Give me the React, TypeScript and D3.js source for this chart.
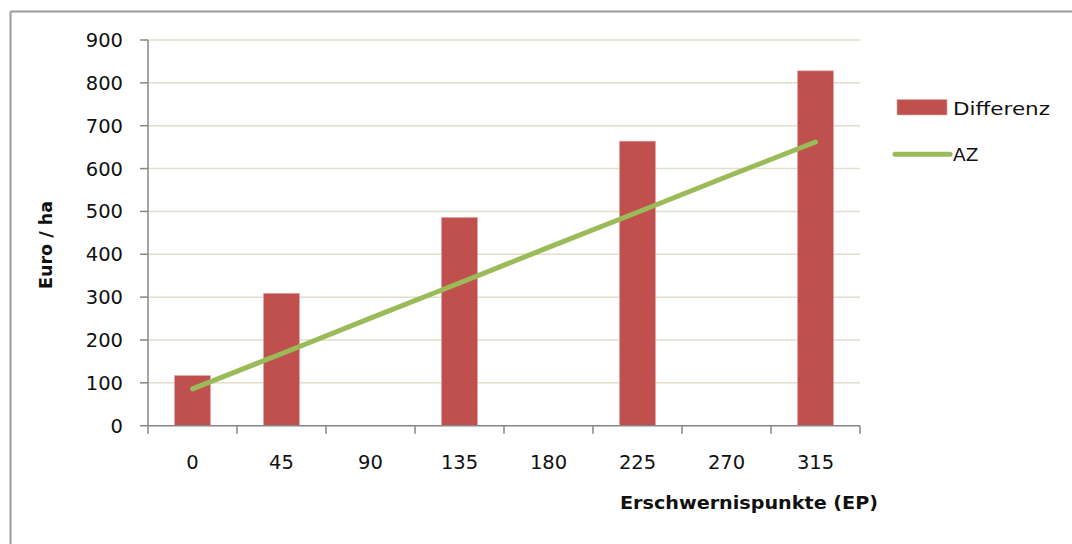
import React from "react";
import * as d3 from "d3";

const categories = ["0", "45", "90", "135", "180", "225", "270", "315"];
const differenz: (number | null)[] = [117, 309, null, 486, null, 664, null, 828];
const az = [86, 168, 251, 333, 416, 498, 581, 662];
const yTicks = [0, 100, 200, 300, 400, 500, 600, 700, 800, 900];
const seriesNames = ["Differenz", "AZ"];

const W = 1072;
const H = 544;
const left = 148;
const right = 860;
const top = 40;
const bottom = 425.7;
const FONT = "'DejaVu Sans', sans-serif";

export default function App() {
  const x = d3.scaleBand().domain(categories).range([left, right]).paddingInner(0).paddingOuter(0);
  const y = d3.scaleLinear().domain([0, 900]).range([bottom, top]);
  const bw = x.bandwidth();
  const barW = bw * 0.405;
  const line = d3
    .line<number>()
    .x((_, i) => (x(categories[i]) as number) + bw / 2)
    .y((d) => y(d));

  const boundaries = d3.range(categories.length + 1).map((i) => left + i * bw);

  return (
    <svg
      width={W}
      height={H}
      style={{ position: "absolute", left: 0, top: 0, background: "#fff" }}
    >
      <rect x={0} y={0} width={W} height={H} fill="#fff" />
      {/* outer frame */}
      <line x1={10.5} y1={11.5} x2={W} y2={11.5} stroke="#9a9a9a" strokeWidth={2} />
      <line x1={10.5} y1={11.5} x2={10.5} y2={H} stroke="#9a9a9a" strokeWidth={2} />

      {/* gridlines */}
      {yTicks.slice(1).map((t) => (
        <line key={t} x1={left} x2={right} y1={y(t)} y2={y(t)} stroke="#e2dec8" strokeWidth={1.5} />
      ))}

      {/* bars */}
      {differenz.map((v, i) =>
        v == null ? null : (
          <rect
            key={i}
            x={(x(categories[i]) as number) + bw / 2 - barW / 2}
            y={y(v)}
            width={barW}
            height={y(0) - y(v)}
            fill="#c0504d"
            stroke="#e8a8a6"
            strokeWidth={0.6}
          />
        )
      )}

      {/* y axis */}
      <line x1={left} x2={left} y1={top} y2={bottom} stroke="#868686" strokeWidth={1.5} />
      {yTicks.map((t) => (
        <g key={t}>
          <line x1={left - 8} x2={left} y1={y(t)} y2={y(t)} stroke="#868686" strokeWidth={1.5} />
          <text
            x={123}
            y={y(t)}
            dy="0.36em"
            textAnchor="end"
            fontFamily={FONT}
            fontSize={19.5}
            fill="#111"
          >
            {t}
          </text>
        </g>
      ))}

      {/* x axis */}
      <line x1={left} x2={right} y1={bottom} y2={bottom} stroke="#868686" strokeWidth={1.5} />
      {boundaries.map((b, i) => (
        <line key={i} x1={b} x2={b} y1={bottom} y2={bottom + 8} stroke="#868686" strokeWidth={1.5} />
      ))}
      {categories.map((c) => (
        <text
          key={c}
          x={(x(c) as number) + bw / 2}
          y={462}
          dy="0.36em"
          textAnchor="middle"
          fontFamily={FONT}
          fontSize={19.5}
          fill="#111"
        >
          {c}
        </text>
      ))}

      {/* AZ line */}
      <path d={line(az) || ""} fill="none" stroke="#9bbb59" strokeWidth={5} strokeLinecap="round" />

      {/* axis titles */}
      <text
        x={620}
        y={503}
        dy="0.36em"
        fontFamily={FONT}
        fontSize={17.5}
        fontWeight="bold"
        fill="#111"
        textLength={258}
        lengthAdjust="spacingAndGlyphs"
      >
        Erschwernispunkte (EP)
      </text>
      <text
        transform="translate(46,245) rotate(-90)"
        textAnchor="middle"
        dy="0.36em"
        fontFamily={FONT}
        fontSize={17.5}
        fontWeight="bold"
        fill="#111"
        textLength={88}
        lengthAdjust="spacingAndGlyphs"
      >
        Euro / ha
      </text>

      {/* legend */}
      <rect x={897} y={99.5} width={50} height={15.5} fill="#c0504d" stroke="#e8a8a6" strokeWidth={0.6} />
      <text x={953} y={108} dy="0.36em" fontFamily={FONT} fontSize={18.5} fill="#111" textLength={97} lengthAdjust="spacingAndGlyphs">
        {seriesNames[0]}
      </text>
      <line x1={895} x2={950} y1={154.3} y2={154.3} stroke="#9bbb59" strokeWidth={5} strokeLinecap="round" />
      <text x={953} y={154.3} dy="0.36em" fontFamily={FONT} fontSize={18.5} fill="#111">
        {seriesNames[1]}
      </text>
    </svg>
  );
}
